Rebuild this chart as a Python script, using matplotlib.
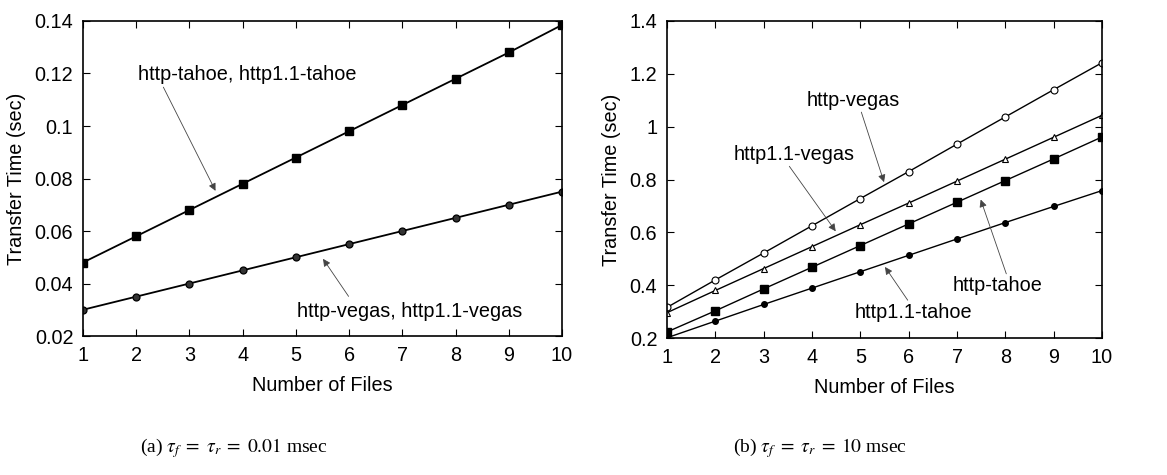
import matplotlib
matplotlib.use('Agg')
from matplotlib import pyplot as plt

plt.rcParams['font.family'] = ['Liberation Sans', 'DejaVu Sans']
plt.rcParams['mathtext.fontset'] = 'stix'

files = [1, 2, 3, 4, 5, 6, 7, 8, 9, 10]

# (a) tau = 0.01 msec  (http and http1.1 curves coincide)
a_tahoe = [0.048, 0.058, 0.068, 0.078, 0.088, 0.098, 0.108, 0.118, 0.128, 0.1385]
a_vegas = [0.030, 0.035, 0.040, 0.045, 0.050, 0.055, 0.060, 0.065, 0.070, 0.075]

# (b) tau = 10 msec
b_http_vegas = [0.316, 0.420, 0.522, 0.625, 0.728, 0.830, 0.934, 1.037, 1.140, 1.242]
b_http11_vegas = [0.296, 0.380, 0.463, 0.546, 0.629, 0.711, 0.794, 0.877, 0.960, 1.043]
b_http_tahoe = [0.223, 0.303, 0.386, 0.468, 0.550, 0.632, 0.714, 0.796, 0.878, 0.961]
b_http11_tahoe = [0.201, 0.264, 0.327, 0.389, 0.451, 0.513, 0.575, 0.637, 0.698, 0.758]

fig = plt.figure(figsize=(11.67, 4.75), dpi=100)
ax1 = fig.add_axes([0.0711, 0.2926, 0.4105, 0.6632])
ax2 = fig.add_axes([0.5716, 0.2884, 0.3727, 0.6674])

arrow = dict(arrowstyle='-|>', color='#444444', lw=0.6, mutation_scale=11,
             shrinkA=0, shrinkB=0)
fs = 14.3

ax1.plot(files, a_tahoe, 'k-', marker='s', ms=5.5, lw=1.3)
ax1.plot(files, a_vegas, 'k-', marker='o', ms=5, mfc='#333333', mew=0.9, lw=1.3)
ax1.set_xlim(1, 10)
ax1.set_ylim(0.02, 0.14)
ax1.set_yticks([0.02, 0.04, 0.06, 0.08, 0.1, 0.12, 0.14])
ax1.set_yticklabels(['0.02', '0.04', '0.06', '0.08', '0.1', '0.12', '0.14'])
ax1.text(4.08, 0.1198, 'http-tahoe, http1.1-tahoe', fontsize=fs, ha='center', va='center')
ax1.annotate('', xy=(3.49, 0.0753), xytext=(2.51, 0.1148), arrowprops=arrow)
ax1.text(7.14, 0.0292, 'http-vegas, http1.1-vegas', fontsize=fs, ha='center', va='center')
ax1.annotate('', xy=(5.51, 0.0494), xytext=(5.99, 0.0351), arrowprops=arrow)

ax2.plot(files, b_http_vegas, 'k-', marker='o', ms=5, mfc='white', mew=0.8, lw=1)
ax2.plot(files, b_http11_vegas, 'k-', marker='^', ms=5, mfc='white', mew=0.8, lw=1)
ax2.plot(files, b_http_tahoe, 'k-', marker='s', ms=5.5, lw=1)
ax2.plot(files, b_http11_tahoe, 'k-', marker='o', ms=4, lw=1)
ax2.set_xlim(1, 10)
ax2.set_ylim(0.2, 1.4)
ax2.set_yticks([0.2, 0.4, 0.6, 0.8, 1.0, 1.2, 1.4])
ax2.set_yticklabels(['0.2', '0.4', '0.6', '0.8', '1', '1.2', '1.4'])
ax2.text(4.86, 1.100, 'http-vegas', fontsize=fs, ha='center', va='center')
ax2.annotate('', xy=(5.49, 0.790), xytext=(5.02, 1.055), arrowprops=arrow)
ax2.text(3.62, 0.895, 'http1.1-vegas', fontsize=fs, ha='center', va='center')
ax2.annotate('', xy=(4.49, 0.604), xytext=(3.53, 0.850), arrowprops=arrow)
ax2.text(7.83, 0.397, 'http-tahoe', fontsize=fs, ha='center', va='center')
ax2.annotate('', xy=(7.49, 0.724), xytext=(8.02, 0.443), arrowprops=arrow)
ax2.text(6.09, 0.296, 'http1.1-tahoe', fontsize=fs, ha='center', va='center')
ax2.annotate('', xy=(5.51, 0.469), xytext=(5.98, 0.343), arrowprops=arrow)

for ax in (ax1, ax2):
    ax.set_xticks(files)
    ax.set_xlabel('Number of Files', fontsize=fs, labelpad=8)
    ax.set_ylabel('Transfer Time (sec)', fontsize=fs, labelpad=6)
    ax.tick_params(direction='in', top=True, right=True, labelsize=fs, length=5, pad=7)
    for s in ax.spines.values():
        s.set_linewidth(1.2)

fig.text(0.2005, 0.057, r'(a) $\tau_f\;=\;\tau_r\;=\;0.01$ msec', fontsize=14,
         family='Liberation Serif', ha='center', va='center')
fig.text(0.7027, 0.057, r'(b) $\tau_f\;=\;\tau_r\;=\;10$ msec', fontsize=14,
         family='Liberation Serif', ha='center', va='center')

plt.savefig('out.png', dpi=100)
